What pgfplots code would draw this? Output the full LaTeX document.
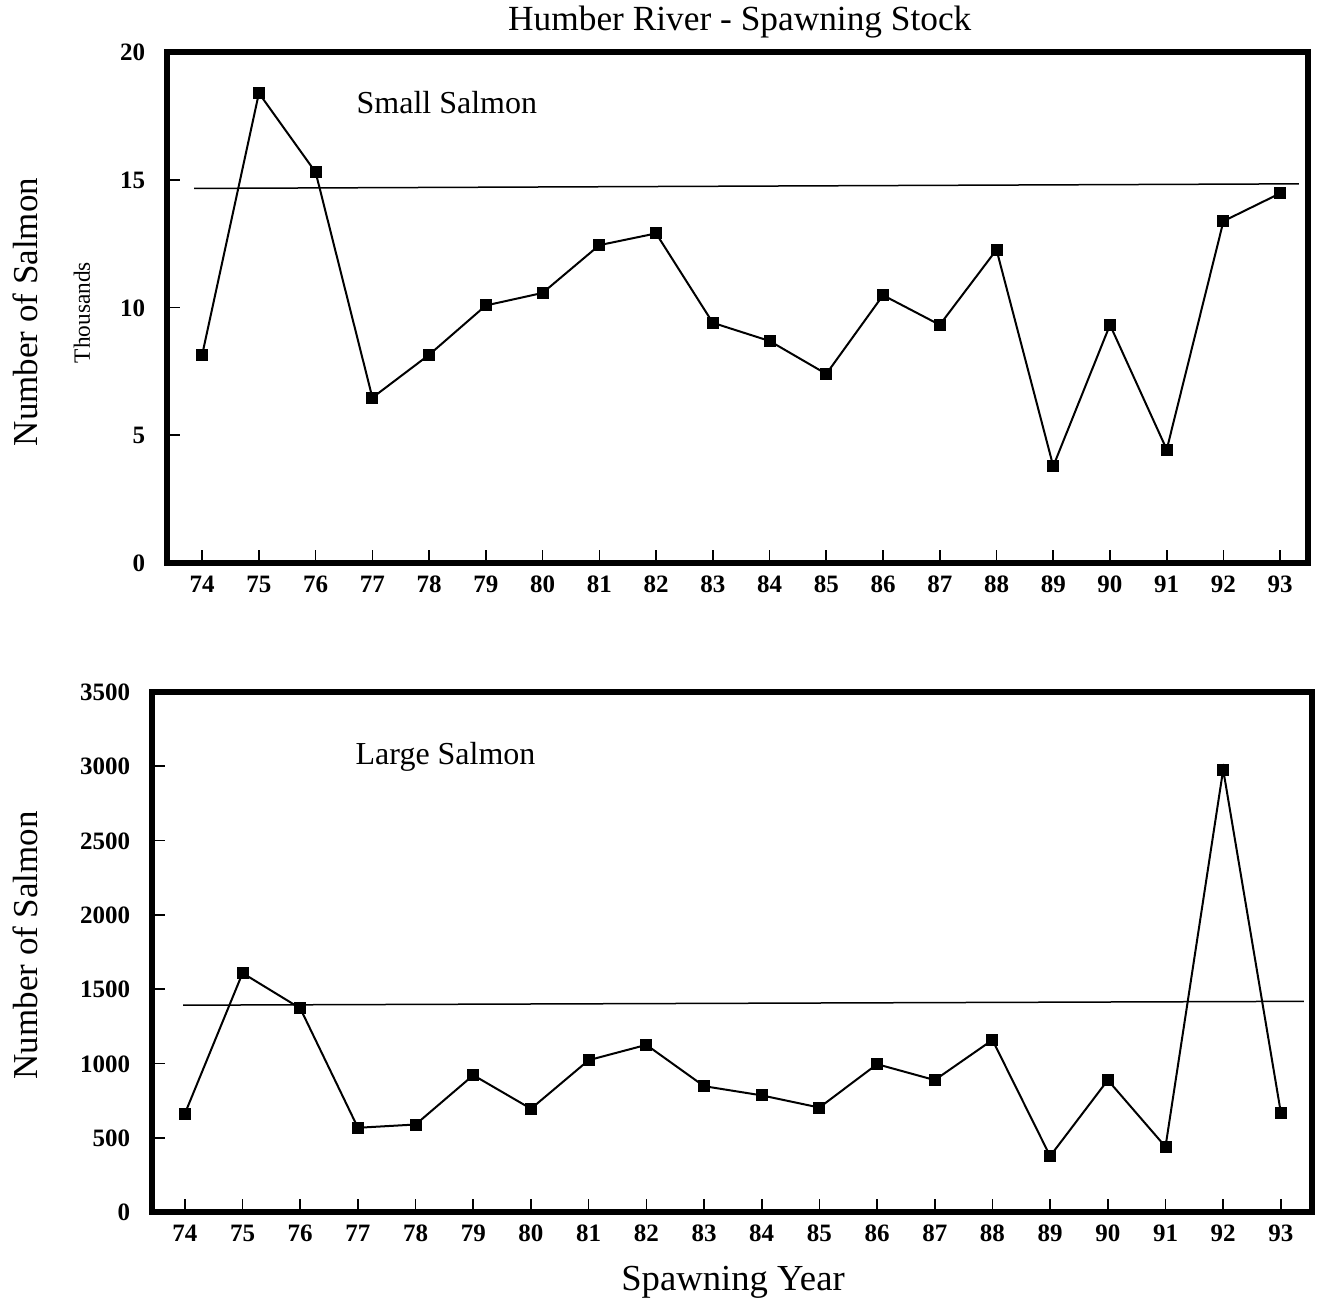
\documentclass[border=0pt]{standalone}
\usepackage{fontspec}
\setmainfont{Liberation Serif}
\usepackage{pgfplots}
\pgfplotsset{compat=1.18}
\begin{document}
\begin{tikzpicture}
\useasboundingbox (0pt,0pt) rectangle (396pt,-390pt);
\pgfplotsset{
 common/.style={
  scale only axis,
  clip mode=individual,
  axis line style={line width=1.6pt},
  tick align=inside,
  xtick pos=bottom, ytick pos=left,
  major tick length=4pt,
  tick style={line width=0.5pt, black},
  xtick={74,...,93},
  ticklabel style={font=\bfseries\fontsize{7.5}{8}\selectfont, text height=5.2pt, text depth=0pt},
  /pgf/number format/assume math mode=true,
  /pgf/number format/1000 sep={},
  xticklabel style={yshift=0pt},
  yticklabel style={xshift=-3pt},
  label style={font=\fontsize{10.5}{12}\selectfont},
 },
 series/.style={black, line width=0.6pt, mark=square*, mark size=1.5pt},
 meanl/.style={black, line width=0.45pt, no marks},
}
\begin{axis}[common, at={(50.1pt,-168.9pt)}, anchor=south west,
  width=342.3pt, height=153.3pt,
  xmin=73.38, xmax=93.49, ymin=0, ymax=20, ytick={0,5,10,15,20},
  ylabel={Number of Salmon},
  ylabel style={at={(axis description cs:-0.1245,0.491)}, anchor=center},
]
\addplot[meanl] coordinates {(73.86,14.66) (93.33,14.84)};
\addplot[series] coordinates {
(74,8.15) (75,18.39) (76,15.29) (77,6.47) (78,8.15) (79,10.08) (80,10.57)
(81,12.44) (82,12.90) (83,9.40) (84,8.69) (85,7.40) (86,10.48) (87,9.32)
(88,12.26) (89,3.79) (90,9.32) (91,4.44) (92,13.38) (93,14.47)};
\node[rotate=90, font=\fontsize{7}{8}\selectfont] at (rel axis cs:-0.0745,0.49) {Thousands};
\node[anchor=west, inner sep=0pt, font=\fontsize{9.6}{11}\selectfont] at (rel axis cs:0.1656,0.902) {Small Salmon};
\node[anchor=center, font=\fontsize{10.6}{12}\selectfont] at (rel axis cs:0.502,1.0587) {Humber River - Spawning Stock};
\end{axis}
\begin{axis}[common, at={(45.6pt,-363.6pt)}, anchor=south west,
  width=348pt, height=156pt,
  xmin=73.43, xmax=93.54, ymin=0, ymax=3500, ytick={0,500,...,3500},
  ylabel={Number of Salmon},
  ylabel style={at={(axis description cs:-0.1095,0.513)}, anchor=center},
  xlabel={Spawning Year},
  xlabel style={at={(axis description cs:0.5009,-0.135)}, anchor=center, font=\fontsize{11}{12}\selectfont},
]
\addplot[meanl] coordinates {(73.97,1392) (93.40,1418)};
\addplot[series] coordinates {
(74,662) (75,1608) (76,1371) (77,567) (78,589) (79,921) (80,695)
(81,1022) (82,1125) (83,847) (84,785) (85,703) (86,995) (87,888)
(88,1158) (89,376) (90,888) (91,439) (92,2978) (93,668)};
\node[anchor=west, inner sep=0pt, font=\fontsize{9.6}{11}\selectfont] at (rel axis cs:0.175,0.875) {Large Salmon};
\end{axis}
\end{tikzpicture}
\end{document}
